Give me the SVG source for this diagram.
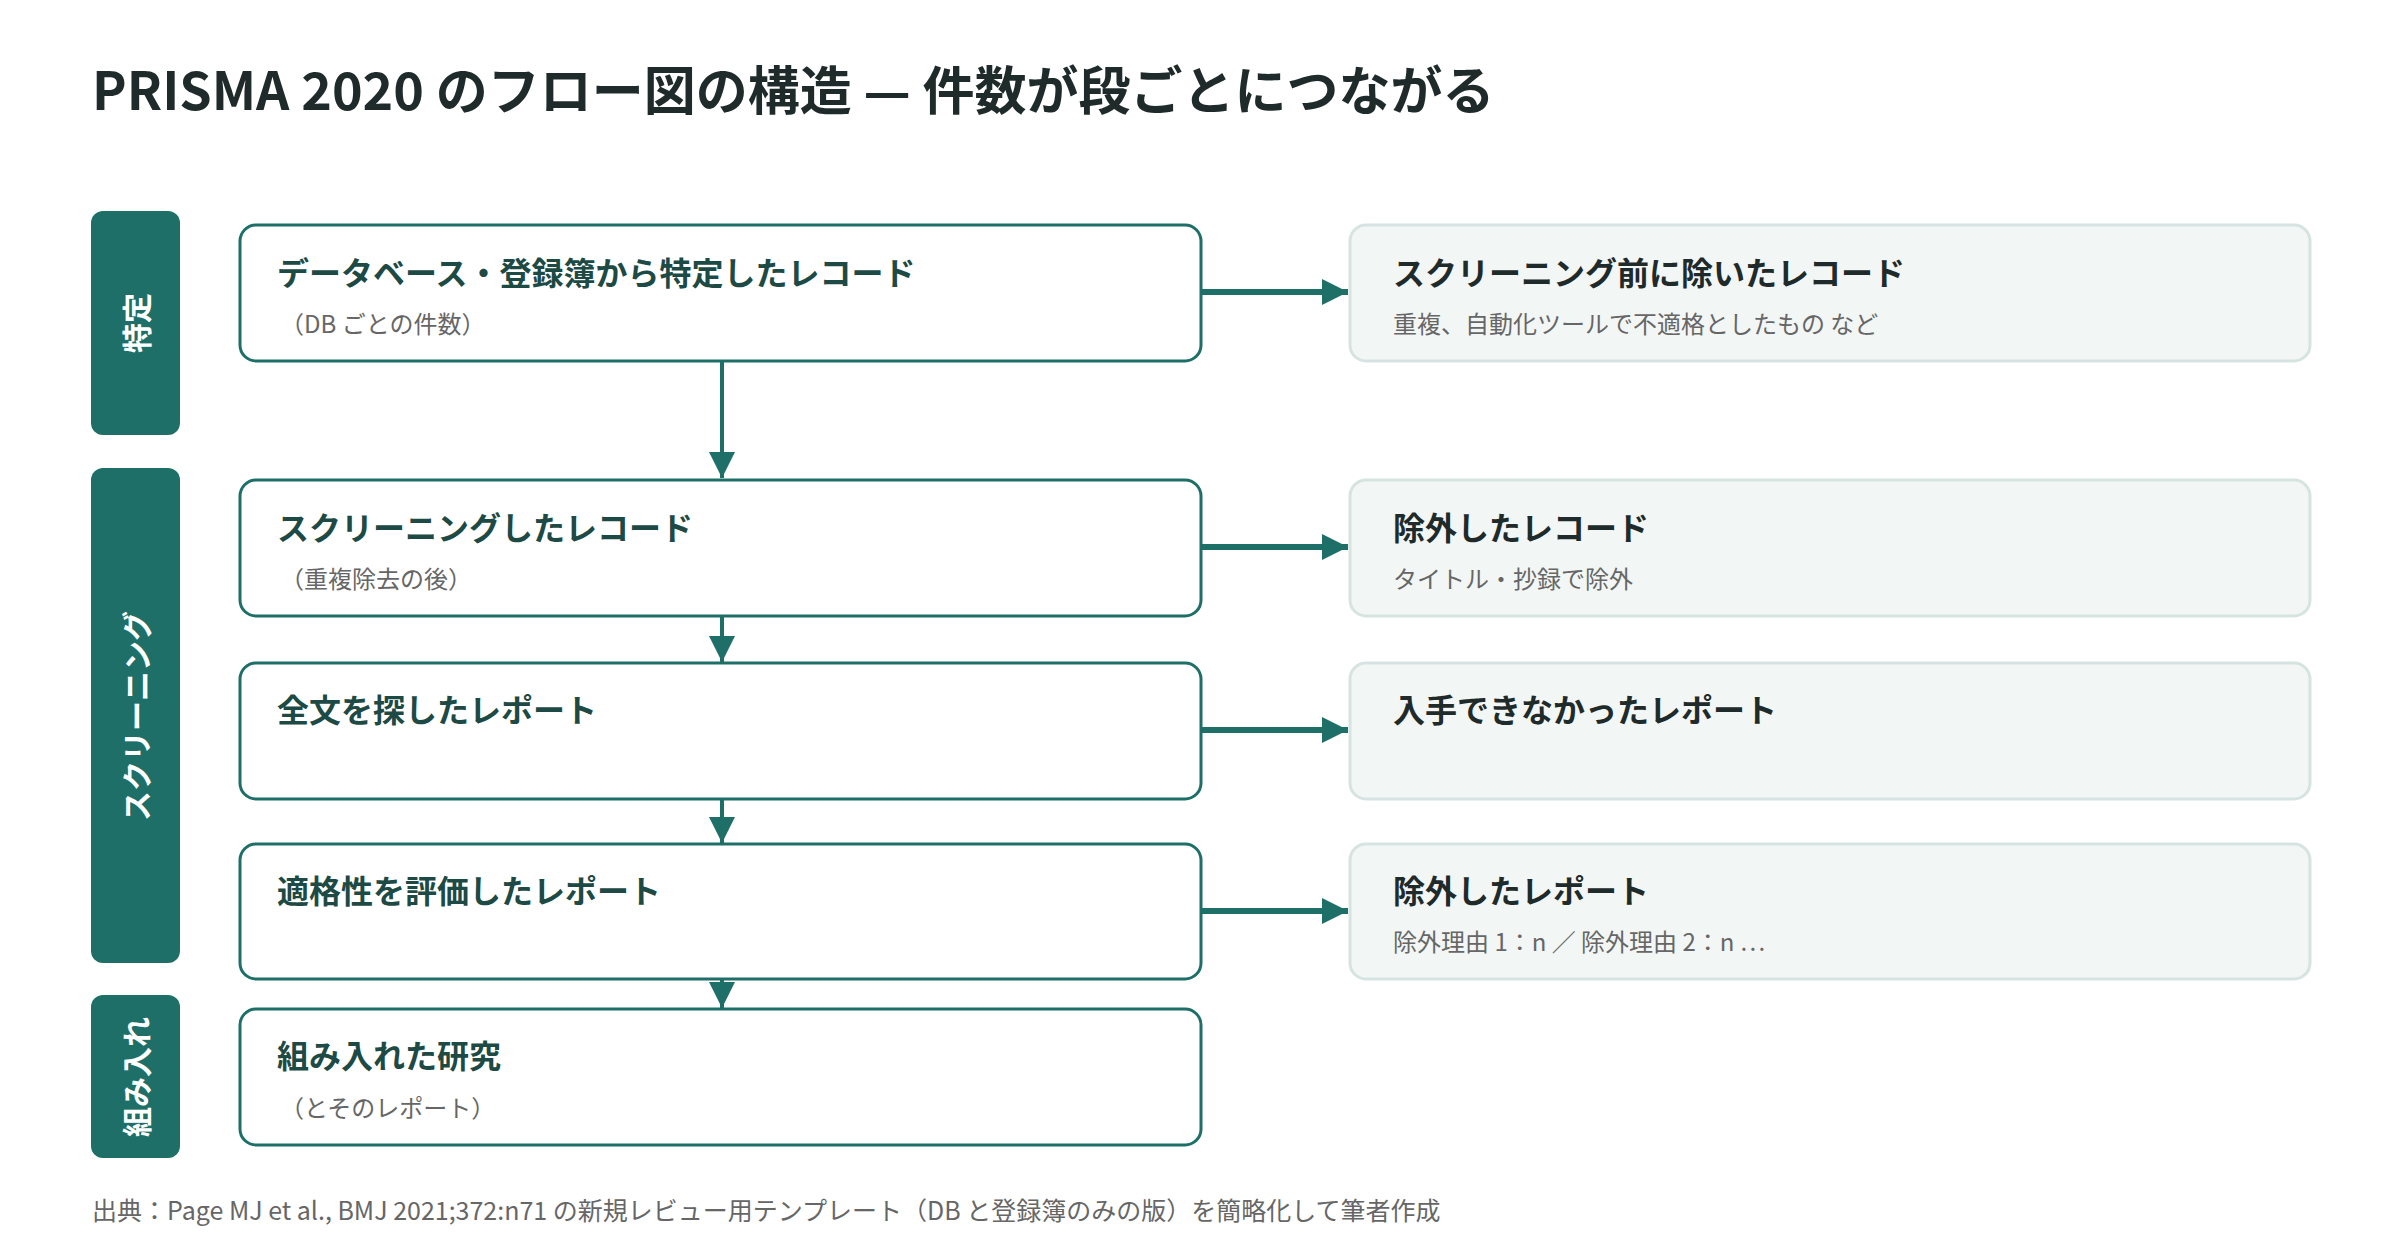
<svg xmlns="http://www.w3.org/2000/svg" width="2400" height="1245" viewBox="0 0 2400 1245">
<style>
text{font-family:"Noto Sans CJK JP","Noto Sans",sans-serif}
.title{font-size:52px;font-weight:700;fill:#1f2a2a}
.lane rect{fill:#1e6f68}
.lane text{fill:#fff;font-size:30px;font-weight:700}
.main rect{fill:#fff;stroke:#1e6f68;stroke-width:3}
.side rect{fill:#f2f6f5;stroke:#d6e4e1;stroke-width:3}
.h{font-size:32px;font-weight:700;fill:#1d4a44}
.side .h{fill:#1f2a2a}
.s{font-size:24px;fill:#666}
.foot{font-size:25px;fill:#666}
.conn line{stroke:#1e6f68}
</style>
<defs>
<marker id="a" markerWidth="10" markerHeight="10" refX="9" refY="5" orient="auto" markerUnits="userSpaceOnUse" viewBox="0 0 10 10"><path d="M0,0L10,5L0,10z" fill="#1e6f68"/></marker>
<marker id="av" viewBox="0 0 10 10" refX="10" refY="5" markerWidth="30" markerHeight="26" orient="auto" markerUnits="userSpaceOnUse"><path d="M0,0L10,5L0,10z" fill="#1e6f68"/></marker>
</defs>
<text class="title" x="92" y="110">PRISMA 2020 のフロー図の構造 — 件数が段ごとにつながる</text>
<g id="lane1" class="lane"><rect x="91" y="211" width="89" height="224" rx="12"/><text transform="translate(148,323) rotate(-90)" text-anchor="middle">特定</text></g>
<g id="lane2" class="lane"><rect x="91" y="468" width="89" height="495" rx="12"/><text transform="translate(148,716) rotate(-90)" text-anchor="middle">スクリーニング</text></g>
<g id="lane3" class="lane"><rect x="91" y="995" width="89" height="163" rx="12"/><text transform="translate(148,1077) rotate(-90)" text-anchor="middle">組み入れ</text></g>
<g class="conn">
<line x1="722" y1="362" x2="722" y2="478" stroke-width="4" marker-end="url(#av)"/>
<line x1="722" y1="616" x2="722" y2="662" stroke-width="4" marker-end="url(#av)"/>
<line x1="722" y1="799" x2="722" y2="843" stroke-width="4" marker-end="url(#av)"/>
<line x1="722" y1="979" x2="722" y2="1008" stroke-width="4" marker-end="url(#av)"/>
<line x1="1202" y1="292" x2="1348" y2="292" stroke-width="6" marker-end="url(#av)"/>
<line x1="1202" y1="547" x2="1348" y2="547" stroke-width="6" marker-end="url(#av)"/>
<line x1="1202" y1="730" x2="1348" y2="730" stroke-width="6" marker-end="url(#av)"/>
<line x1="1202" y1="911" x2="1348" y2="911" stroke-width="6" marker-end="url(#av)"/>
</g>
<g id="n1" class="main"><rect x="240" y="225" width="961" height="136" rx="16"/><text class="h" x="277" y="285">データベース・登録簿から特定したレコード</text><text class="s" x="280" y="333">（DB ごとの件数）</text></g>
<g id="n2" class="main"><rect x="240" y="480" width="961" height="136" rx="16"/><text class="h" x="277" y="540">スクリーニングしたレコード</text><text class="s" x="280" y="588">（重複除去の後）</text></g>
<g id="n3" class="main"><rect x="240" y="663" width="961" height="136" rx="16"/><text class="h" x="277" y="722">全文を探したレポート</text></g>
<g id="n4" class="main"><rect x="240" y="844" width="961" height="135" rx="16"/><text class="h" x="277" y="903">適格性を評価したレポート</text></g>
<g id="n5" class="main"><rect x="240" y="1009" width="961" height="136" rx="16"/><text class="h" x="277" y="1068">組み入れた研究</text><text class="s" x="280" y="1117">（とそのレポート）</text></g>
<g id="r1" class="side"><rect x="1350" y="225" width="960" height="136" rx="16"/><text class="h" x="1393" y="285">スクリーニング前に除いたレコード</text><text class="s" x="1393" y="333">重複、自動化ツールで不適格としたもの など</text></g>
<g id="r2" class="side"><rect x="1350" y="480" width="960" height="136" rx="16"/><text class="h" x="1393" y="540">除外したレコード</text><text class="s" x="1393" y="588">タイトル・抄録で除外</text></g>
<g id="r3" class="side"><rect x="1350" y="663" width="960" height="136" rx="16"/><text class="h" x="1393" y="722">入手できなかったレポート</text></g>
<g id="r4" class="side"><rect x="1350" y="844" width="960" height="135" rx="16"/><text class="h" x="1393" y="903">除外したレポート</text><text class="s" x="1393" y="951">除外理由 1：n ／ 除外理由 2：n …</text></g>
<text class="foot" x="92" y="1220">出典：Page MJ et al., BMJ 2021;372:n71 の新規レビュー用テンプレート（DB と登録簿のみの版）を簡略化して筆者作成</text>
</svg>
